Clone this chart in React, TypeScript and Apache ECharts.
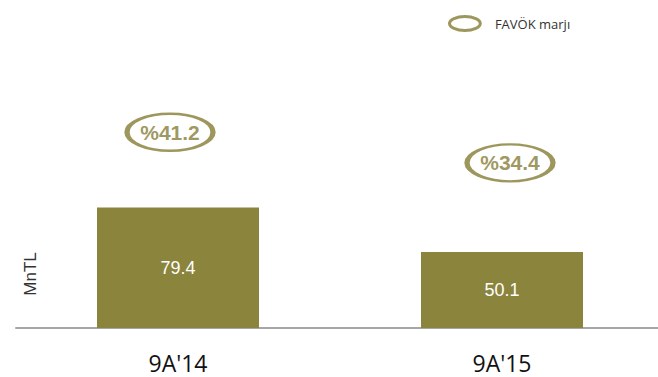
import React, { useEffect, useRef } from "react";
import * as echarts from "echarts";

const categories = ["9A'14", "9A'15"];
const favokValues = [79.4, 50.1];
const marginValues = [41.2, 34.4];
const unitLabel = "MnTL";
const marginName = "FAVÖK marjı";

const OLIVE = "#8B843D";
const ELLIPSE = "path://M0,20 A44,20 0 1,1 88,20 A44,20 0 1,1 0,20 Z";
const marginOffsets = [[-8, 0], [8, 0]];

export default function App() {
  const ref = useRef<HTMLDivElement>(null);
  useEffect(() => {
    document.body.style.margin = "0";
    const chart = echarts.init(ref.current!, null, { renderer: "svg" });
    chart.setOption({
      animation: false,
      backgroundColor: "#ffffff",
      textStyle: { fontFamily: "Liberation Sans" },
      legend: {
        left: 443,
        top: 10,
        itemWidth: 32,
        itemHeight: 14,
        data: [{ name: marginName, icon: ELLIPSE, itemStyle: { borderWidth: 3 } }],
        textStyle: { fontFamily: "Open Sans", fontSize: 13, color: "#333", padding: [0, 0, 0, 9] },
      },
      grid: { left: 16, right: 0, top: 20, bottom: 49 },
      xAxis: {
        type: "category",
        data: categories,
        axisLine: { lineStyle: { color: "#a6a6a6", width: 2 } },
        axisTick: { show: false },
        axisLabel: { fontFamily: "Open Sans", fontSize: 23, lineHeight: 23, color: "#111", margin: 23 },
      },
      yAxis: [
        { type: "value", min: 0, max: 203, show: false, splitLine: { show: false } },
        { type: "value", min: -2.4, max: 66.2, show: false, splitLine: { show: false } },
      ],
      graphic: [
        {
          type: "text",
          x: 30,
          y: 274,
          rotation: Math.PI / 2,
          style: {
            text: unitLabel,
            fontFamily: "Liberation Sans",
            fontSize: 17,
            fill: "#333",
            align: "center",
            verticalAlign: "middle",
          },
        },
      ],
      series: [
        {
          type: "bar",
          name: "FAVÖK",
          data: favokValues,
          barWidth: 162,
          itemStyle: { color: OLIVE },
          label: {
            show: true,
            position: "inside",
            color: "#fff",
            fontSize: 18,
            fontFamily: "Liberation Sans",
          },
        },
        {
          type: "scatter",
          name: marginName,
          yAxisIndex: 1,
          data: marginValues.map((v, i) => ({ value: v, symbolOffset: marginOffsets[i] })),
          symbol: ELLIPSE,
          symbolSize: [86, 37],
          itemStyle: { color: "#ffffff", borderColor: "#857D35", borderWidth: 3.5 },
          label: {
            show: true,
            position: "inside",
            formatter: (p: any) => "%" + p.value,
            color: "#857D35",
            fontSize: 21,
            fontWeight: "bold",
            fontFamily: "Liberation Sans",
          },
          z: 5,
        },
      ],
    });
    return () => chart.dispose();
  }, []);
  return (
    <div style={{ width: 658, height: 377, overflow: "hidden", position: "relative" }}>
      <div ref={ref} style={{ width: 664, height: 377 }} />
    </div>
  );
}
